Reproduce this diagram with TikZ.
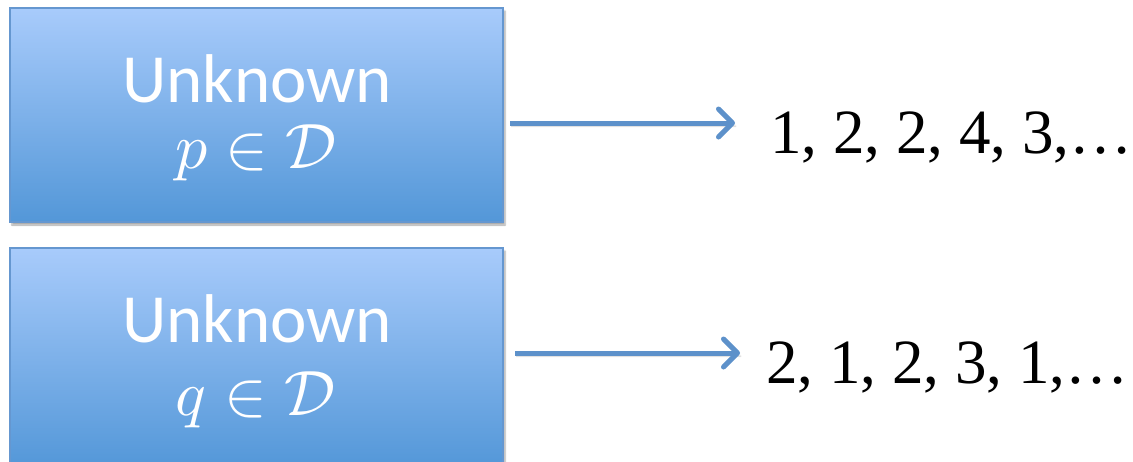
\documentclass[tikz,border=0pt]{standalone}
\usepackage{fontspec}
\newfontfamily\boxfont{Carlito}
\newfontfamily\seqfont{Liberation Serif}
\usetikzlibrary{arrows.meta,shadows.blur}
\definecolor{boxtop}{HTML}{A8CBFB}
\definecolor{boxbot}{HTML}{5397D8}
\definecolor{boxline}{HTML}{6597D0}
\definecolor{arrcol}{HTML}{5D91CA}
\newcommand{\bigmath}[1]{\scalebox{6.4}{$#1$}}
\tikzset{
  ubox/.style={draw=boxline, line width=1.5pt, top color=boxtop, bottom color=boxbot,
    blur shadow={shadow xshift=2pt, shadow yshift=-3pt, shadow blur steps=6, shadow opacity=35, shadow blur extra rounding=0pt}},
  title/.style={text=white, anchor=base, inner sep=0pt, text depth=0pt, font=\boxfont\fontsize{69}{72}\selectfont},
  mathlbl/.style={text=white, anchor=base, inner sep=0pt},
  seq/.style={anchor=base west, inner sep=0pt, font=\seqfont\fontsize{63}{66}\selectfont},
  arr/.style={draw=arrcol, line width=5pt, -{Straight Barb[length=14pt,width=28pt,line width=0pt 1,line cap=round,line join=round]},
    blur shadow={shadow xshift=1pt, shadow yshift=-3pt, shadow blur steps=4, shadow opacity=25}}
}
\begin{document}
\begin{tikzpicture}[x=1pt,y=-1pt]
\useasboundingbox (0,0) rectangle (1133,461);
\clip (0,0) rectangle (1133,461);
\path[ubox] (10,8) rectangle (503,222);
\node[minimum width=493pt, minimum height=214pt, inner sep=0pt] (b1) at (256.5,115) {};
\path[ubox] (10,248) rectangle (503,468);
\node[minimum width=493pt, minimum height=220pt, inner sep=0pt] (b2) at (256.5,358) {};
\node[title] (u1) at (257,102) {Unknown};
\node[mathlbl] (m1) at (256,168) {\bigmath{p\in\mathcal{D}}};
\node[title] (u2) at (257,342) {Unknown};
\node[mathlbl] (m2) at (256,415) {\bigmath{q\in\mathcal{D}}};
\node[seq] (s1) at (770,153) {1, 2, 2, 4, 3,\ldots};
\node[seq] (s2) at (766,383) {2, 1, 2, 3, 1,\ldots};
\coordinate (a1s) at (510,123);
\coordinate (a1e) at (735,123);
\coordinate (a2s) at (515,353);
\coordinate (a2e) at (740,353);
\draw[arr] (a1s) -- (a1e);
\draw[arr] (a2s) -- (a2e);
\end{tikzpicture}
\end{document}
